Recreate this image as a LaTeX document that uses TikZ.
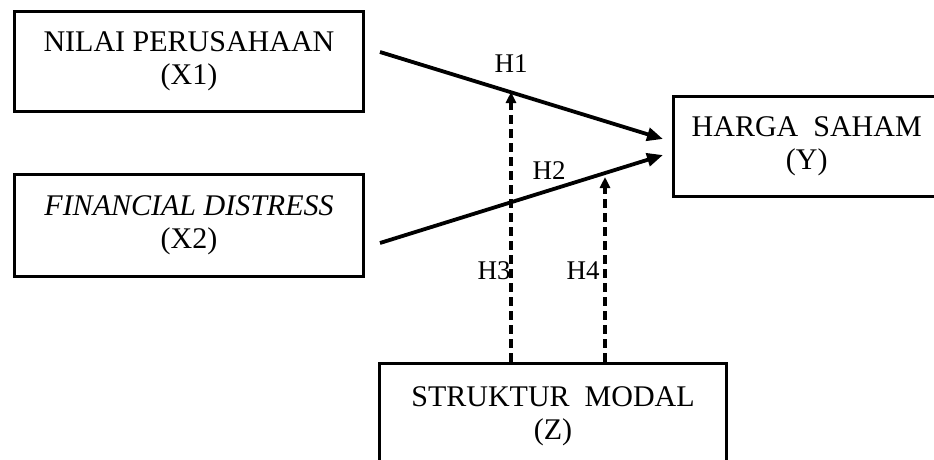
\documentclass[tikz,border=0pt]{standalone}
\usepackage{fontspec}
\setmainfont{Liberation Serif}
\usetikzlibrary{arrows.meta,calc}
\begin{document}
\begin{tikzpicture}[x=1pt,y=-1pt,
  box/.style={draw,line width=3.3pt,align=center,inner sep=0pt,
    font=\fontsize{30}{33}\selectfont},
  hlabel/.style={inner sep=0pt,font=\fontsize{27}{30}\selectfont},
  solidarrow/.style={line width=3.8pt,-{Triangle[length=16pt,width=13pt]}},
  dasharrow/.style={line width=3.3pt,dash pattern=on 9pt off 5pt,-{Triangle[length=11pt,width=10pt]}}]
\useasboundingbox (0,0) rectangle (934,459);
\clip (0,0) rectangle (934,459);
\fill[white] (0,0) rectangle (934,459);

\node[box,minimum width=349pt,minimum height=100pt] (x1) at (189,61.5)
  {NILAI PERUSAHAAN\\(X1)};
\node[box,minimum width=349pt,minimum height=102pt] (x2) at (189,225.5)
  {\itshape FINANCIAL DISTRESS\\(X2)};
\node[box,minimum width=266.5pt,minimum height=100pt] (y) at (806.75,146.5)
  {HARGA\hspace{15pt}SAHAM\\(Y)};
\node[box,minimum width=347pt,minimum height=105pt] (z) at (553,416)
  {STRUKTUR\hspace{15pt}MODAL\\(Z)};

\coordinate (s1) at (380,52);
\coordinate (s2) at (380,243);
\coordinate (t1) at (663,139);
\coordinate (t2) at (663,155);
\coordinate (t3) at (511,92);
\coordinate (t4) at (605,177);

\draw[dasharrow] (t3 |- z.north) -- (t3);
\draw[dasharrow] (t4 |- z.north) -- (t4);
\draw[solidarrow] (s1) -- (t1);
\draw[solidarrow] (s2) -- (t2);

\node[hlabel] (h1) at (511,64) {H1};
\node[hlabel] (h2) at (549,171) {H2};
\node[hlabel] (h3) at (494,271) {H3};
\node[hlabel] (h4) at (583,271) {H4};
\end{tikzpicture}
\end{document}
